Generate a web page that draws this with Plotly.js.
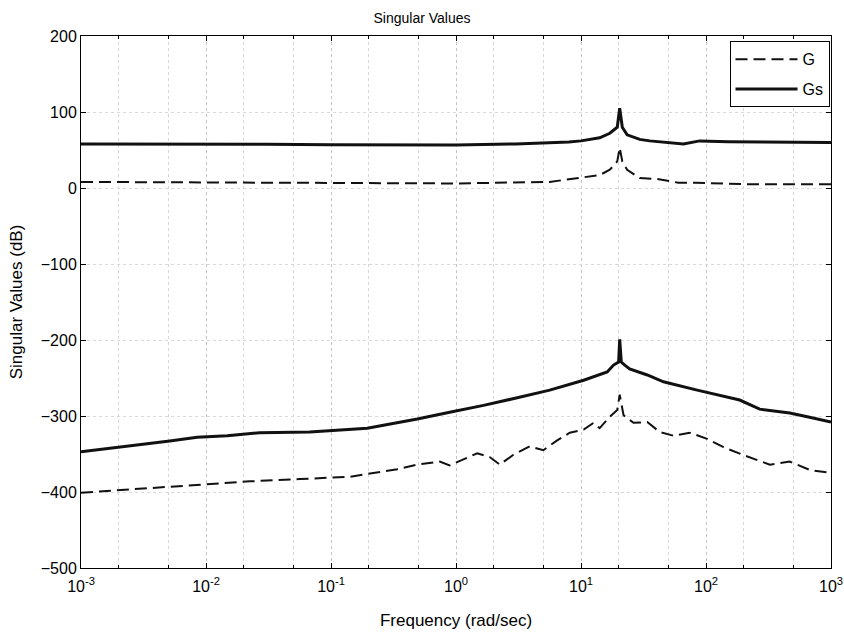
<!DOCTYPE html>
<html>
<head>
<meta charset="utf-8">
<script src="https://cdn.plot.ly/plotly-3.0.1.min.js"></script>
<style>html,body{margin:0;padding:0;background:#fff;}#chart{width:844px;height:633px;}</style>
</head>
<body>
<div id="chart"></div>
<script>
// ---- data (frequency in rad/sec, singular values in dB) ----
var gHiFreq = [0.001, 0.01, 0.1, 1, 5.6, 9.8, 14.1, 17.0, 19.5, 20.4, 21.4, 23.4, 29.5, 40, 60, 83, 200, 1000];
var gHiDb   = [8, 7.5, 7, 6, 8, 13, 17, 24, 35, 53, 35, 24, 13, 12, 7, 7, 5, 5];

var gsHiFreq = [0.001, 0.01, 0.03, 0.1, 0.3, 1, 3, 5.6, 8, 10, 14.1, 17.0, 19.5, 20.4, 21.4, 23.4, 29.5, 35.5, 49, 66, 89, 150, 1000];
var gsHiDb   = [58, 58, 57.5, 57, 56.5, 56.5, 58, 59.5, 60.5, 62, 66, 72, 80, 105, 80, 70, 64, 62, 60, 58, 62, 61, 60];

var gsLoFreq = [0.001, 0.00295, 0.00513, 0.0085, 0.0148, 0.0269, 0.0676, 0.195, 0.355, 0.49, 0.89, 1.66, 3.09, 5.62, 10.5, 14.1, 16.2, 18.2, 20.0, 20.4, 21.0, 22.4, 24.5, 33.9, 45.7, 85, 186, 269, 468, 646, 1000];
var gsLoDb   = [-347, -338, -333, -328, -326, -322, -321, -316, -308, -304, -295, -286, -276, -266, -253, -245, -242, -233, -229, -199, -229, -233, -238, -246, -255, -266, -279, -291, -296, -301, -308];

var gLoFreq = [0.001, 0.00355, 0.0089, 0.0224, 0.0562, 0.141, 0.339, 0.49, 0.74, 0.89, 1.48, 1.86, 2.24, 2.88, 3.89, 5.0, 6.45, 8.13, 10.5, 12.6, 14.1, 17.0, 19.5, 20.4, 21.9, 26.3, 33.9, 42.7, 55, 74, 102, 138, 204, 324, 468, 676, 1000];
var gLoDb   = [-401, -395, -390, -386, -383, -380, -370, -364, -360, -365, -349, -354, -364, -351, -340, -345, -332, -322, -318, -309, -316, -301, -292, -272, -299, -309, -308, -321, -326, -322, -330, -341, -352, -364, -360, -371, -375];

var xTickVals = [0.001, 0.01, 0.1, 1, 10, 100, 1000];
var xTickText = ['10<sup>-3</sup>', '10<sup>-2</sup>', '10<sup>-1</sup>', '10<sup>0</sup>', '10<sup>1</sup>', '10<sup>2</sup>', '10<sup>3</sup>'];
var yTickVals = [-500, -400, -300, -200, -100, 0, 100, 200];

var dashStyle = {color: '#111', width: 2, dash: '12px,6px'};
var solidStyle = {color: '#111', width: 3};

var traces = [
  {x: gHiFreq, y: gHiDb, mode: 'lines', name: 'G', line: dashStyle, legendgroup: 'G', showlegend: true},
  {x: gsHiFreq, y: gsHiDb, mode: 'lines', name: 'Gs', line: solidStyle, legendgroup: 'Gs', showlegend: true},
  {x: gsLoFreq, y: gsLoDb, mode: 'lines', name: 'Gs', line: solidStyle, legendgroup: 'Gs', showlegend: false},
  {x: gLoFreq, y: gLoDb, mode: 'lines', name: 'G', line: dashStyle, legendgroup: 'G', showlegend: false}
];

var fam = 'Liberation Sans, Arial, sans-serif';

var layout = {
  width: 844, height: 633,
  margin: {l: 81, r: 13, t: 36, b: 65},
  paper_bgcolor: '#fff', plot_bgcolor: '#fff',
  font: {family: fam, color: '#000', size: 15},
  title: {text: 'Singular Values', x: 0.5, xanchor: 'center', y: 0.972, yanchor: 'middle', font: {family: fam, size: 14, color: '#000'}},
  showlegend: true,
  legend: {x: 0.998, y: 0.99, xanchor: 'right', yanchor: 'top', bgcolor: '#fff', bordercolor: '#000', borderwidth: 1,
           font: {family: fam, size: 16, color: '#000'}, itemwidth: 62, tracegroupgap: 6},
  xaxis: {
    type: 'log', range: [-3, 3], tickvals: xTickVals, ticktext: xTickText,
    ticks: 'inside', ticklen: 5, tickcolor: '#000', mirror: 'ticks', showline: true, linecolor: '#000', linewidth: 1,
    showgrid: true, gridcolor: '#c4c4c4', griddash: 'dot', gridwidth: 1, zeroline: false,
    tickfont: {family: fam, size: 16, color: '#000'}, ticklabelstandoff: 4,
    minor: {ticks: 'inside', ticklen: 3, tickcolor: '#000', showgrid: true, gridcolor: '#d6d6d6', griddash: 'dot', gridwidth: 1},
    title: {text: 'Frequency (rad/sec)', font: {family: fam, size: 17, color: '#000'}, standoff: 19}
  },
  yaxis: {
    range: [-500, 200], tickvals: yTickVals,
    ticks: 'inside', ticklen: 5, tickcolor: '#000', mirror: 'ticks', showline: true, linecolor: '#000', linewidth: 1,
    showgrid: true, gridcolor: '#dadada', griddash: 'dot', gridwidth: 1, zeroline: false,
    tickfont: {family: fam, size: 16, color: '#000'},
    title: {text: 'Singular Values (dB)', font: {family: fam, size: 17, color: '#000'}, standoff: 13}
  }
};

Plotly.newPlot('chart', traces, layout, {displayModeBar: false, staticPlot: true});
</script>
</body>
</html>
